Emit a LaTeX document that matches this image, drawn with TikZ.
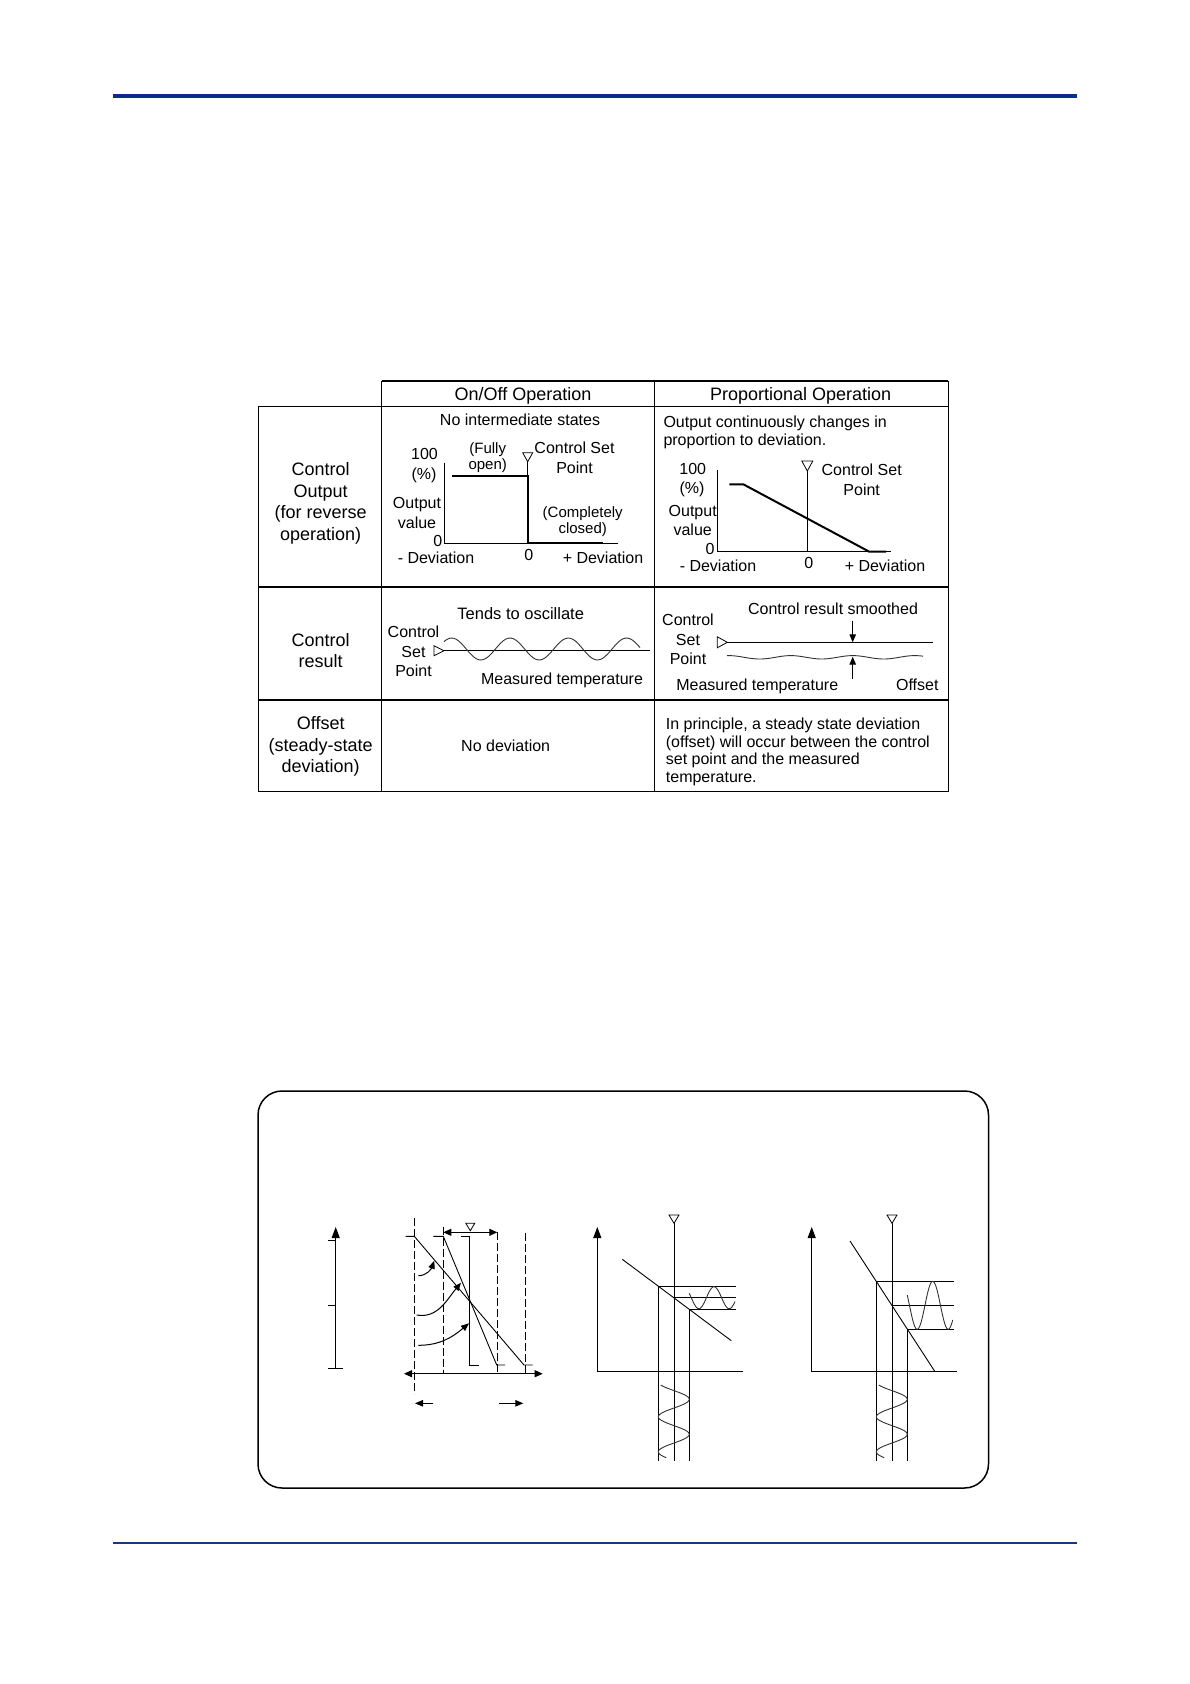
\documentclass[tikz,border=0pt]{standalone}
\usepackage{fontspec}
\setmainfont{Liberation Sans}
\usetikzlibrary{arrows.meta,positioning,calc}
\definecolor{ruleBlue}{HTML}{0A2C8C}
\definecolor{ruleNavy}{HTML}{123A7C}

\begin{document}
\begin{tikzpicture}[x=1pt,y=-1pt,font=\fontsize{16}{17.6}\selectfont,
   lab/.style={inner sep=0pt,align=center},
   head/.style={lab,font=\fontsize{18}{21.6}\selectfont},
   small/.style={lab,font=\fontsize{15}{15.5}\selectfont},
   para/.style={lab,anchor=west,align=left},
   grid/.style={line width=1pt},
   rowline/.style={line width=1.7pt},
   thin/.style={line width=0.9pt},
   thick/.style={line width=2pt},
   fine/.style={line width=0.9pt,black!80},
   setmark/.style={line width=0.8pt,fill=white,line join=miter},
   bigarrow/.style={line width=1pt,-{Triangle[length=11pt,width=8pt]}},
   twoarrow/.style={line width=1pt,{Triangle[length=8pt,width=7pt]}-{Triangle[length=8pt,width=7pt]}},
   midarrow/.style={line width=1pt,-{Triangle[length=8pt,width=6.5pt]}}]
  \useasboundingbox (0,0) rectangle (1190,1684);
  \fill[white] (0,0) rectangle (1190,1684);

  % page rules
  \fill[ruleBlue] (113,93.7) rectangle (1077,97.7);
  \fill[ruleNavy] (113,1542) rectangle (1077,1544);

  % table
  \draw[line width=1.4pt] (381.7,381) -- (948,381);
  \draw[grid] (381.7,381) -- (381.7,791.5) (948,381) -- (948,791.5);
  \draw[line width=1.4pt] (258,791.5) -- (948,791.5);
  \draw[grid] (258,406) rectangle (381.7,791.5);
  \draw[grid] (381.7,406) -- (948,406);
  \draw[grid] (654,381) -- (654,791.5);
  \draw[rowline] (258,586.7) -- (948,586.7);
  \draw[rowline] (258,700) -- (948,700);

  \node[head] (onoff) at (523,395.5) {On/Off Operation};
  \node[head] (prop) at (800.7,395.5) {Proportional Operation};
  \node[head] (rowoutput) at (320.7,503.5) {Control\\Output\\(for reverse\\operation)};
  \node[head] (rowresult) at (320.7,650.5) {Control\\result};
  \node[head] (rowoffset) at (320.7,746.5) {Offset\\(steady-state\\deviation)};

  % on/off output
  \node[lab] (nostates) at (520,419.5) {No intermediate states};
  \node[lab] (hundreda) at (424.5,454) {100};
  \node[lab] (pctA) at (424,475) {(\%)};
  \node[lab] (outvalA) at (417,513) {Output\\[2pt]value};
  \node[lab] (zeroA) at (437.7,541) {0};
  \node[lab] (minusA) at (436,557.5) {- Deviation};
  \node[lab] (midzeroA) at (528.7,555) {0};
  \node[lab] (plusA) at (603,557.5) {+ Deviation};
  \node[small] (fully) at (487.7,457.5) {(Fully\\open)};
  \node[lab] (setptA) at (574.5,458) {Control Set\\[2pt]Point};
  \node[small] (closed) at (582.7,521.5) {(Completely\\closed)};
  \draw[thin] (444.3,462.7) -- (444.3,543.3) -- (618.3,543.3);
  \draw[thick] (451.7,476) -- (527.7,476) -- (527.7,543.3) -- (603,543.3);
  \draw[thin] (527.7,461.7) -- (527.7,476);
  \draw[setmark] (527.7,461.7) -- ++(-5,-9) -- ++(10,0) -- cycle;

  % proportional output
  \node[para] (outtext) at (663.3,432.5) {Output continuously changes in\\proportion to deviation.};
  \node[lab] (hundredb) at (692.7,469) {100};
  \node[lab] (pctB) at (692,489) {(\%)};
  \node[lab] (outvalB) at (692.7,520.5) {Output\\[2pt]value};
  \node[lab] (zeroB) at (710,549) {0};
  \node[lab] (minusB) at (718,566) {- Deviation};
  \node[lab] (midzeroB) at (808.7,563) {0};
  \node[lab] (plusB) at (885,566) {+ Deviation};
  \node[lab] (setptB) at (861.7,480) {Control Set\\[2pt]Point};
  \draw[thin] (717.7,470) -- (717.7,551.7) -- (890.7,551.7);
  \draw[thick] (729.3,484.3) -- (743.3,484.3) -- (869.3,551.7) -- (886,551.7);
  \draw[thin] (807.3,471) -- (807.3,551.7);
  \draw[setmark] (807.3,471) -- ++(-5.5,-10) -- ++(11,0) -- cycle;

  % on/off result
  \node[lab,font=\fontsize{16.5}{18}\selectfont] (tends) at (520.7,614) {Tends to oscillate};
  \node[lab] (setptC) at (413.5,651.5) {Control\\[2pt]Set\\[2pt]Point};
  \node[lab] (measA) at (562,680.5) {Measured temperature};
  \draw[thin] (444,650.7) -- (650,650.7);
  \draw[setmark] (444,650.7) -- ++(-10,-5) -- ++(0,10) -- cycle;
  \draw[fine,smooth,domain=444:640,samples=80] plot (\x,{649-11*cos((\x-451.7)/58.3*360)});

  % proportional result
  \node[lab] (smoothed) at (833,609) {Control result smoothed};
  \node[lab] (setptD) at (688,639.5) {Control\\[2pt]Set\\[2pt]Point};
  \node[lab] (measB) at (757.3,686.5) {Measured temperature};
  \node[lab] (offsetlab) at (917.3,684.3) {Offset};
  \coordinate (dnfrom) at (852.7,620.7);
  \coordinate (dnto) at (852.7,642.3);
  \coordinate (upfrom) at (852.7,679);
  \coordinate (upto) at (852.7,656.7);
  \draw[thin] (727.3,642.3) -- (933,642.3);
  \draw[setmark] (727.3,642.3) -- ++(-10,-5.5) -- ++(0,11) -- cycle;
  \draw[fine,smooth,domain=727:923,samples=80] plot (\x,{657.3-1.7*cos((\x-852.7)/62*360)});
  \draw[midarrow] (dnfrom) -- (dnto);
  \draw[midarrow] (upfrom) -- (upto);

  % offset row
  \node[lab] (nodev) at (505.7,745.7) {No deviation};
  \node[para] (principle) at (665.7,752) {In principle, a steady state deviation\\(offset) will occur between the control\\set point and the measured\\temperature.};

  % lower frame
  \draw[line width=1.5pt,rounded corners=24pt] (258,1091) rectangle (988.5,1488);

  % scale
  \coordinate (scalebot) at (335.7,1368.3);
  \coordinate (scaletop) at (335.7,1227);
  \draw[bigarrow] (scalebot) -- (scaletop);
  \draw[thin] (328.3,1240) -- (335.7,1240) (328.3,1305) -- (335.7,1305) (328.3,1368.3) -- (343,1368.3);

  % proportional bands
  \draw[thin,dashed,dash pattern=on 8pt off 3pt] (414.3,1218) -- (414.3,1394);
  \draw[thin,dashed,dash pattern=on 8pt off 3pt] (443.3,1226.7) -- (443.3,1373);
  \draw[thin,dashed,dash pattern=on 8pt off 3pt] (497.3,1232) -- (497.3,1373);
  \draw[thin,dashed,dash pattern=on 8pt off 3pt] (525.3,1233) -- (525.3,1373);
  \coordinate (devleft) at (404,1373.7);
  \coordinate (devright) at (542.7,1373.7);
  \coordinate (bandleft) at (443.3,1232.3);
  \coordinate (bandright) at (497.3,1232.3);
  \draw[twoarrow] (devleft) -- (devright);
  \draw[twoarrow] (bandleft) -- (bandright);
  \draw[setmark] (470.3,1230.7) -- ++(-4.5,-7.5) -- ++(9,0) -- cycle;
  \draw[thin] (405.7,1236.3) -- (414.3,1236.3) -- (524,1365) -- (532.7,1365);
  \draw[thin] (433.3,1236.3) -- (443.3,1236.3) -- (496.7,1365) -- (505,1365);
  \draw[thin] (460.7,1236.3) -- (469.3,1236.3) -- (469.3,1365) -- (478.7,1365);
  \coordinate (curveAs) at (418.3,1275.7);
  \coordinate (curveAe) at (434.3,1260.7);
  \coordinate (curveBs) at (416.7,1315);
  \coordinate (curveBe) at (461,1282.7);
  \coordinate (curveCs) at (418.3,1345.3);
  \coordinate (curveCe) at (469,1323.3);
  \draw[midarrow] (curveAs) to[out=0,in=-110] (curveAe);
  \draw[midarrow] (curveBs) to[out=-10,in=-130] (curveBe);
  \draw[midarrow] (curveCs) to[out=0,in=-140] (curveCe);
  \coordinate (leftfrom) at (433.3,1403.3);
  \coordinate (leftto) at (415,1403.3);
  \coordinate (rightfrom) at (499.3,1403.3);
  \coordinate (rightto) at (523.3,1403.3);
  \draw[midarrow] (leftfrom) -- (leftto);
  \draw[midarrow] (rightfrom) -- (rightto);

  % narrow gain
  \coordinate (narrowo) at (597.3,1371.7);
  \coordinate (narrowtop) at (597.3,1227);
  \draw[bigarrow] (narrowo) -- (narrowtop);
  \draw[thin] (narrowo) -- (743.3,1371.7);
  \draw[thin] (674,1223.3) -- (674,1460.7);
  \draw[thin] (735.7,1286.7) -- (658.3,1286.7) -- (658.3,1460.7);
  \draw[thin] (735.7,1309.3) -- (689.3,1309.3) -- (689.3,1460.7);
  \draw[thin] (674,1297.7) -- (735.7,1297.7);
  \draw[thin] (622.3,1259.3) -- (731.3,1340.7);
  \draw[setmark] (674,1223.3) -- ++(-5,-8.3) -- ++(10,0) -- cycle;
  \draw[fine,smooth,domain=689.3:735,samples=60] plot (\x,{1297.7-11*cos((\x-714)/30.3*360)});
  \draw[fine,smooth,domain=1385:1457.7,samples=60] plot ({673.8+15.5*cos((\x-1399.3)/35*360)},\x);

  % wide gain
  \coordinate (wideo) at (811.7,1371.7);
  \coordinate (widetop) at (811.7,1227);
  \draw[bigarrow] (wideo) -- (widetop);
  \draw[thin] (wideo) -- (956.7,1371.7);
  \draw[thin] (892,1223.3) -- (892,1460.7);
  \draw[thin] (954,1281.3) -- (876.3,1281.3) -- (876.3,1460.7);
  \draw[thin] (954,1329.3) -- (907.3,1329.3) -- (907.3,1460.7);
  \draw[thin] (892,1305.3) -- (954,1305.3);
  \draw[thin] (850,1241) -- (935,1371.7);
  \draw[setmark] (892,1223.3) -- ++(-5,-8.3) -- ++(10,0) -- cycle;
  \draw[fine,smooth,domain=907.3:952.7,samples=60] plot (\x,{1305.3-24*cos((\x-932.7)/31*360)});
  \draw[fine,smooth,domain=1385:1457.7,samples=60] plot ({891.8+15.5*cos((\x-1399.3)/35*360)},\x);
\end{tikzpicture}
\end{document}
